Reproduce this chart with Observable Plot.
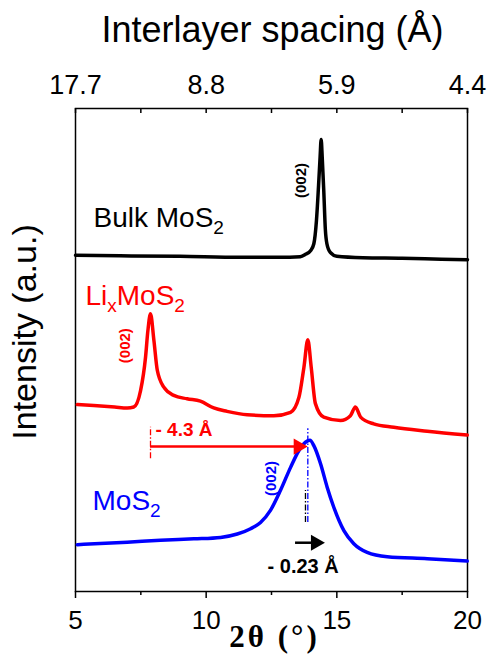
<!DOCTYPE html>
<html><head><meta charset="utf-8">
<script src="https://cdn.jsdelivr.net/npm/d3@7"></script>
<script src="https://cdn.jsdelivr.net/npm/@observablehq/plot@0.6"></script>
<style>html,body{margin:0;padding:0;background:#fff}svg{display:block}</style>
</head><body><div id="chart"></div>
<script>
// 2θ (°) values and intensities (a.u., stacked offsets)
const bulkTheta = [5.0,6.7,9.0,11.3,13.2,13.6,13.8,14.0,14.12,14.22,14.3,14.36,14.40,14.44,14.5,14.56,14.62,14.75,15.0,16.0,17.5,19.0,20.0];
const bulkI     = [69.6,69.5,69.4,69.2,69.2,69.3,69.8,70.6,72.0,76.8,84,90,93.6,90,83,75,72.0,70.2,69.4,69.1,69.0,68.8,68.7];

const lixTheta = [5.07,5.7,6.5,6.98,7.23,7.49,7.68,7.77,7.87,8.0,8.13,8.38,8.76,9.27,9.78,10.29,10.8,11.57,12.59,13.23,13.55,13.74,13.89,14.02,14.18,14.5,15.14,15.52,15.71,15.91,16.41,17.18,18.46,19.99];
const lixI     = [38.7,38.5,38.2,38.0,38.2,41.6,48.5,54.0,57.5,52.0,45.8,42.3,40.6,39.9,39.4,38.0,37.3,36.6,36.4,37.1,40.2,46.4,52.1,46.4,38.9,36.1,35.4,36.4,38.2,36.1,34.7,34.0,33.2,32.4];

const mosTheta = [5.07,6.98,8.25,9.53,10.55,11.19,11.70,12.08,12.46,12.84,13.23,13.55,13.80,13.97,14.12,14.38,14.63,14.88,15.27,15.65,16.16,16.93,18.46,19.99];
const mosI     = [9.7,10.2,10.6,10.9,11.2,11.9,13.0,14.3,16.8,20.9,25.7,29.2,30.9,31.3,30.2,26.4,21.6,17.5,12.6,9.9,8.1,7.2,6.8,6.3];

const majorTicks = [5, 10, 15, 20];
const minorTicks = [7.5, 12.5, 17.5];
const topTickLabels = ["17.7", "8.8", "5.9", "4.4"];

const seriesNames = ["Bulk MoS_2", "Li_xMoS_2", "MoS_2"];
const seriesColors = ["#000000", "#ff0000", "#0000ff"];

const toRows = (t, v, s) => t.map((x, i) => ({theta: x, I: v[i], s}));
const rows = [
  ...toRows(bulkTheta, bulkI, seriesNames[0]),
  ...toRows(lixTheta, lixI, seriesNames[1]),
  ...toRows(mosTheta, mosI, seriesNames[2])
];

const dashDot = "6,2,1.5,2";
const sans = "'Liberation Sans', Arial, Helvetica, sans-serif";

const plot = Plot.plot({
  width: 491, height: 658,
  marginLeft: 75, marginRight: 24, marginTop: 108, marginBottom: 67,
  style: {fontFamily: sans, background: "white", color: "black"},
  x: {domain: [5, 20]},
  y: {domain: [0, 100], axis: null},
  color: {domain: seriesNames, range: seriesColors},
  marks: [
    Plot.frame({stroke: "black", strokeWidth: 1.5}),
    Plot.axisX({anchor: "bottom", ticks: majorTicks, tickSize: 7, tickPadding: 12, fontSize: 26, strokeWidth: 1.5, label: null, tickFormat: d => String(d)}),
    Plot.axisX({anchor: "bottom", ticks: minorTicks, tickSize: 4, text: null, strokeWidth: 1.5, label: null}),
    Plot.axisX({anchor: "top", ticks: majorTicks, tickSize: 0, tickPadding: 15, fontSize: 27, label: null,
      tickFormat: d => topTickLabels[majorTicks.indexOf(d)]}),
    Plot.ruleX([...majorTicks, ...minorTicks], {x: d => d, insetBottom: 478, stroke: "black", strokeWidth: 1.5}),

    // curves
    Plot.line(rows, {x: "theta", y: "I", z: "s", stroke: "s", strokeWidth: 3.5, curve: "monotone-x", strokeLinejoin: "round"}),

    // reference dash-dot lines
    Plot.ruleX([7.87], {x: d => d, y1: 27.5, y2: 34.0, stroke: "#ff0000", strokeWidth: 1.3, strokeDasharray: dashDot}),
    Plot.ruleX([13.89], {x: d => d, y1: 14.3, y2: 33.7, stroke: "#0000ff", strokeWidth: 1.3, strokeDasharray: dashDot}),
    Plot.ruleX([13.80], {x: d => d, y1: 14.3, y2: 20.9, stroke: "#000000", strokeWidth: 1.3, strokeDasharray: dashDot}),

    // red arrow
    Plot.ruleY([30.0], {y: d => d, x1: 7.87, x2: 13.45, stroke: "#ff0000", strokeWidth: 2.5}),
    Plot.dot([13.72], {x: d => d, y: 30.0, symbol: "triangle", rotate: 90, r: 6, fill: "#ff0000", stroke: "none", dx: -5}),
    // black arrow
    Plot.ruleY([10.1], {y: d => d, x1: 13.42, x2: 14.1, stroke: "#000000", strokeWidth: 2.5}),
    Plot.dot([14.38], {x: d => d, y: 10.1, symbol: "triangle", rotate: 90, r: 6, fill: "#000000", stroke: "none", dx: -5}),

    // annotation text
    Plot.text(["- 4.3 Å"], {x: 8.06, y: 32.1, text: d => d, fill: "#ff0000", fontSize: 19, fontWeight: "bold", textAnchor: "start", lineAnchor: "bottom"}),
    Plot.text(["- 0.23 Å"], {x: 13.71, y: 3.9, text: d => d, fill: "#000000", fontSize: 20, fontWeight: "bold", textAnchor: "middle", lineAnchor: "bottom"}),
    Plot.text(["(002)"], {x: 13.65, y: 85.1, text: d => d, fill: "#000000", fontSize: 15, fontWeight: "bold", rotate: -90}),
    Plot.text(["(002)"], {x: 6.91, y: 50.9, text: d => d, fill: "#ff0000", fontSize: 15, fontWeight: "bold", rotate: -90}),
    Plot.text(["(002)"], {x: 12.50, y: 23.4, text: d => d, fill: "#0000ff", fontSize: 15, fontWeight: "bold", rotate: -90}),

    // series labels
    Plot.text([seriesNames[0]], {x: 5.69, y: 75.4, text: d => d, fill: "#000000", fontSize: 28, textAnchor: "start", lineAnchor: "bottom"}),
    Plot.text([seriesNames[1]], {x: 5.38, y: 59.4, text: d => d, fill: "#ff0000", fontSize: 28, textAnchor: "start", lineAnchor: "bottom"}),
    Plot.text([seriesNames[2]], {x: 5.65, y: 16.8, text: d => d, fill: "#0000ff", fontSize: 28, textAnchor: "start", lineAnchor: "bottom"}),

    // axis titles
    Plot.text(["Interlayer spacing (Å)"], {frameAnchor: "top", dy: -67, dx: 1, text: d => d, fontSize: 36, textAnchor: "middle", lineAnchor: "bottom", fill: "black"}),
    Plot.text(["Intensity (a.u.)"], {frameAnchor: "left", dx: -40, dy: -18, rotate: -90, text: d => d, fontSize: 34, textAnchor: "middle", lineAnchor: "bottom", fill: "black"}),
    Plot.text(["2θ (°)"], {frameAnchor: "bottom", dy: 55, dx: 3, text: d => d, fontSize: 31, fontWeight: "bold", fontFamily: "'Liberation Serif', 'Times New Roman', serif", textAnchor: "middle", lineAnchor: "bottom", fill: "black", className: "xlabel"})
  ]
});

// subscripts: "_x" → subscript tspan
d3.select(plot).selectAll("text").each(function () {
  const s = this.textContent;
  if (!s || !s.includes("_")) return;
  const parts = s.split(/_(.)/);
  const el = d3.select(this);
  el.text(null);
  let shifted = false;
  parts.forEach((p, i) => {
    if (!p) return;
    if (i % 2 === 1) {
      el.append("tspan").attr("dy", shifted ? 0 : 7).attr("font-size", "0.68em").text(p);
      shifted = true;
    } else {
      el.append("tspan").attr("dy", shifted ? -7 : 0).text(p);
      shifted = false;
    }
  });
});
// wider spacing for the 2θ label, as in the original
d3.select(plot).selectAll(".xlabel text").attr("letter-spacing", "3px");

document.getElementById("chart").appendChild(plot);
</script>
</body></html>
